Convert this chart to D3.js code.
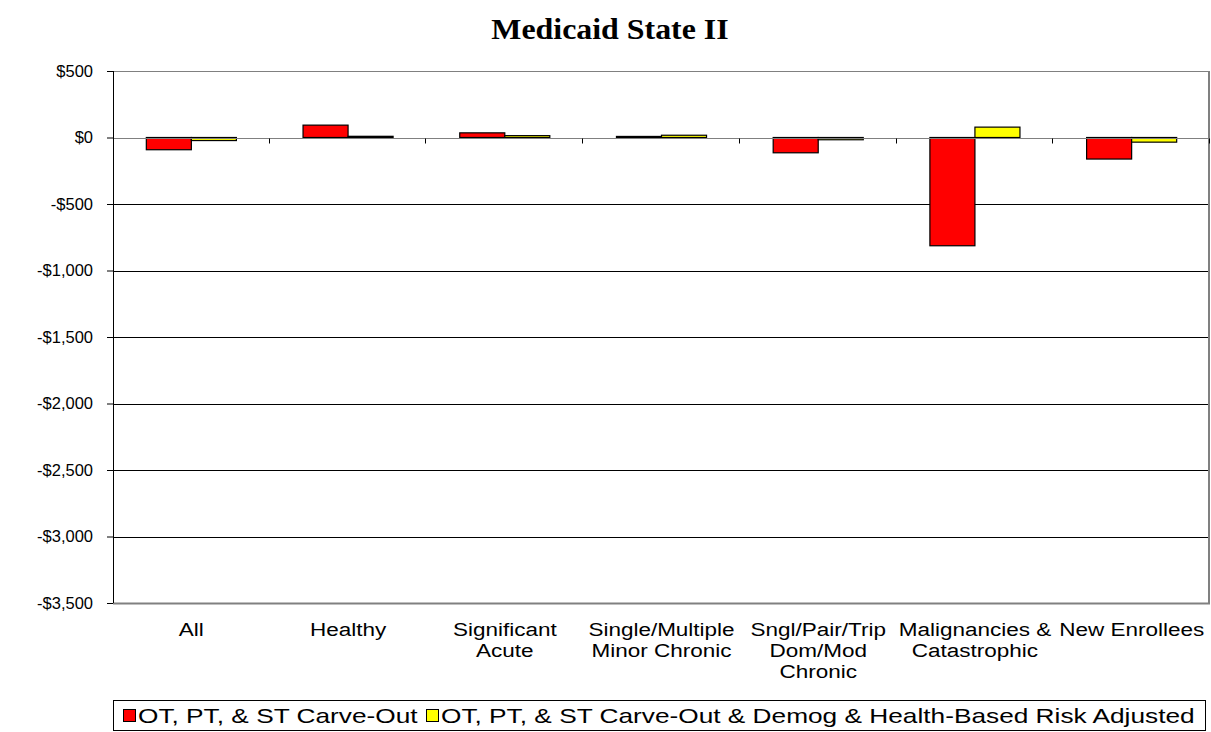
<!DOCTYPE html>
<html>
<head>
<meta charset="utf-8">
<script src="https://cdn.jsdelivr.net/npm/d3@7"></script>
<style>
  body { margin: 0; background: #fff; }
  svg { display: block; font-family: "Liberation Sans", Arial, sans-serif; }
</style>
</head>
<body>
<div class="chart"></div>
<script>
// data
var categories = [
    ["All"],
    ["Healthy"],
    ["Significant", "Acute"],
    ["Single/Multiple", "Minor Chronic"],
    ["Sngl/Pair/Trip", "Dom/Mod", "Chronic"],
    ["Malignancies &", "Catastrophic"],
    ["New Enrollees"]
];
var carveOut = [-92, 93, 35, 8, -115, -814, -162];
var riskAdjusted = [-23, 9, 14, 17, -17, 78, -35];
var seriesNames = ["OT, PT, & ST Carve-Out",
    "OT, PT, & ST Carve-Out & Demog & Health-Based Risk Adjusted"];
var seriesColors = ["#ff0000", "#ffff00"];
var yTicks = [500, 0, -500, -1000, -1500, -2000, -2500, -3000, -3500];

var svgWidth = 1211, svgHeight = 732;
var margin = { top: 71, right: 1, bottom: 129, left: 113 };
var width = svgWidth - margin.left - margin.right;
var height = svgHeight - margin.top - margin.bottom;

var svg = d3.select(".chart").append("svg")
    .attr("width", svgWidth)
    .attr("height", svgHeight);

// title (reference text is a little wider than the local fonts, so stretch it)
svg.append("text")
    .attr("transform", "translate(610, 39) scale(1.1, 1)")
    .attr("text-anchor", "middle")
    .style("font-family", "'Liberation Serif', 'Times New Roman', serif")
    .style("font-weight", "bold")
    .style("font-size", "29px")
    .text("Medicaid State II");

var chartGroup = svg.append("g")
    .attr("transform", `translate(${margin.left}, ${margin.top})`);

var yScale = d3.scaleLinear().domain([-3500, 500]).range([height, 0]);
var xScale = d3.scaleBand().domain(d3.range(categories.length)).range([0, width]).paddingInner(0).paddingOuter(0);
var xSub = d3.scaleBand().domain([0, 1]).range([0, xScale.bandwidth()]).paddingInner(0).paddingOuter(0.74);

// gridlines
chartGroup.append("g")
    .selectAll("line")
    .data(yTicks.filter(d => d !== 0))
    .enter().append("line")
    .attr("x1", 0).attr("x2", width)
    .attr("y1", d => Math.round(yScale(d)) + 0.5)
    .attr("y2", d => Math.round(yScale(d)) + 0.5)
    .attr("stroke", d => (d === 500 || d === -3500) ? "#808080" : "#000")
    .attr("stroke-width", d => (d === -3500) ? 2 : 1);

// right border
chartGroup.append("line")
    .attr("x1", width - 1).attr("x2", width - 1)
    .attr("y1", 0).attr("y2", height)
    .attr("stroke", "#808080").attr("stroke-width", 2);

// bars
var seriesData = [carveOut, riskAdjusted];
seriesData.forEach(function (values, s) {
    chartGroup.append("g")
        .selectAll("rect")
        .data(values)
        .enter().append("rect")
        .attr("x", (d, i) => xScale(i) + xSub(s))
        .attr("y", d => yScale(Math.max(0, d)))
        .attr("width", xSub.bandwidth())
        .attr("height", d => Math.abs(yScale(d) - yScale(0)))
        .attr("fill", seriesColors[s])
        .attr("stroke", "#000")
        .attr("stroke-width", 1.2);
});

// zero line (category axis) with ticks
var zeroY = Math.round(yScale(0)) + 0.5;
chartGroup.append("line")
    .attr("x1", 0).attr("x2", width)
    .attr("y1", zeroY).attr("y2", zeroY)
    .attr("stroke", "#808080").attr("stroke-width", 1);
chartGroup.append("g")
    .selectAll("line")
    .data(d3.range(1, categories.length + 1))
    .enter().append("line")
    .attr("x1", i => Math.round(i * xScale.step()) - 0.5)
    .attr("x2", i => Math.round(i * xScale.step()) - 0.5)
    .attr("y1", zeroY).attr("y2", zeroY + 5)
    .attr("stroke", "#000");

// y axis
var leftAxis = d3.axisLeft(yScale)
    .tickValues(yTicks)
    .tickSize(6)
    .tickPadding(14)
    .tickFormat(d => (d < 0 ? "-$" : "$") + d3.format(",")(Math.abs(d)));
var yAxis = chartGroup.append("g").call(leftAxis);
yAxis.select(".domain").attr("stroke", "#000").attr("d", `M0.5,0V${height}`);
yAxis.selectAll(".tick line").attr("stroke", "#000");
yAxis.selectAll("text")
    .style("font-size", "16.5px")
    .style("font-family", "'Liberation Sans', Arial, sans-serif")
    .attr("fill", "#000");

// category labels
var catLabels = chartGroup.append("g")
    .selectAll("text")
    .data(categories)
    .enter().append("text")
    .attr("text-anchor", "middle")
    .attr("transform", (d, i) => `translate(${xScale(i) + xScale.bandwidth() / 2}, ${height + 33}) scale(1.25, 1)`)
    .style("font-size", "18px")
    .attr("fill", "#000");
catLabels.selectAll("tspan")
    .data(d => d)
    .enter().append("tspan")
    .attr("x", 0)
    .attr("dy", (d, i) => i === 0 ? 0 : 21)
    .text(d => d);

// legend
var legend = svg.append("g");
legend.append("rect")
    .attr("x", 113.5).attr("y", 700.5)
    .attr("width", 1092).attr("height", 30)
    .attr("fill", "#fff")
    .attr("stroke", "#000");
var legendX = [123, 426];
seriesNames.forEach(function (name, s) {
    legend.append("rect")
        .attr("x", legendX[s] + 0.5).attr("y", 709.5)
        .attr("width", 12).attr("height", 12)
        .attr("fill", seriesColors[s])
        .attr("stroke", "#000");
    legend.append("text")
        .attr("transform", `translate(${legendX[s] + 15}, 723) scale(1.25, 1)`)
        .style("font-size", "21px")
        .text(name);
});
</script>
</body>
</html>
